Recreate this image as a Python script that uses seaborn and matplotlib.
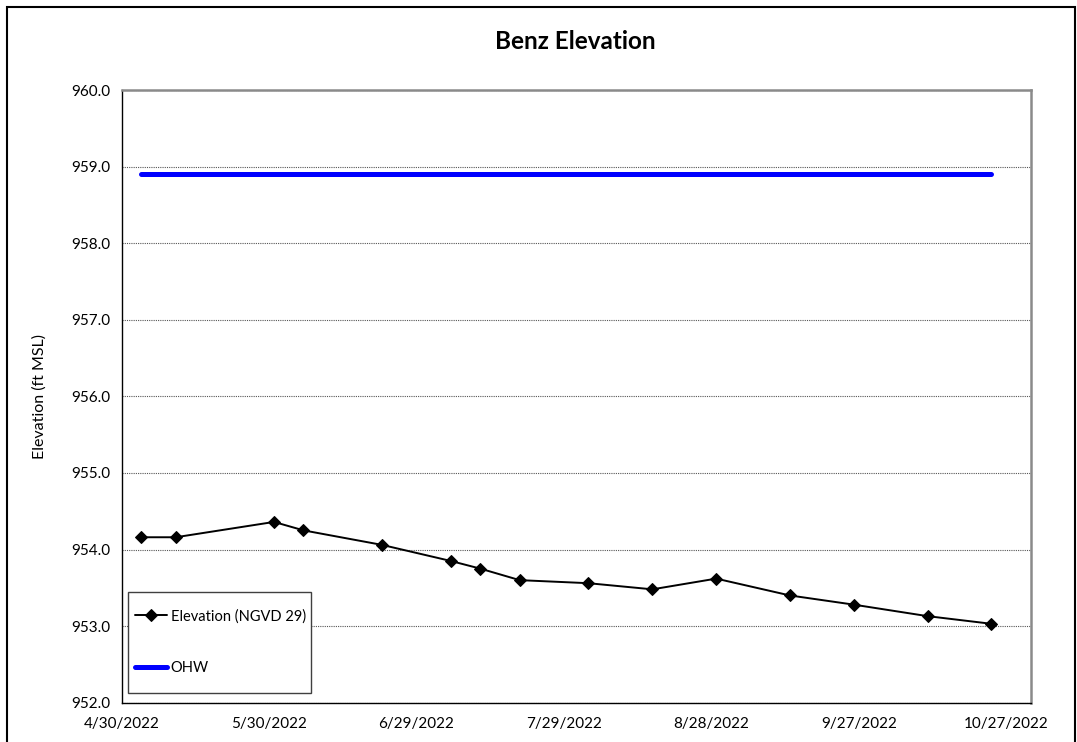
import matplotlib
matplotlib.use("Agg")
import matplotlib.pyplot as plt
import matplotlib.dates as mdates
from matplotlib.ticker import FuncFormatter
from matplotlib.patches import Rectangle
import seaborn as sns
import pandas as pd

# Survey dates and lake elevations (ft, NGVD 29)
dates = ["2022-05-04", "2022-05-11", "2022-05-31", "2022-06-06", "2022-06-22",
         "2022-07-06", "2022-07-12", "2022-07-20", "2022-08-03", "2022-08-16",
         "2022-08-29", "2022-09-13", "2022-09-26", "2022-10-11", "2022-10-24"]
elevation = [954.16, 954.16, 954.36, 954.25, 954.06,
             953.85, 953.75, 953.60, 953.56, 953.48,
             953.62, 953.40, 953.28, 953.13, 953.03]
ohw_level = 958.9

tick_dates = ["2022-04-30", "2022-05-30", "2022-06-29", "2022-07-29",
              "2022-08-28", "2022-09-27", "2022-10-27"]
x_limits = ["2022-04-30", "2022-11-01"]
y_ticks = [952.0, 953.0, 954.0, 955.0, 956.0, 957.0, 958.0, 959.0, 960.0]

df = pd.DataFrame({"date": pd.to_datetime(dates), "elev": elevation})
df["ohw"] = ohw_level

sns.set_style("white")
plt.rcParams["font.family"] = ["Lato", "DejaVu Sans"]
plt.rcParams["text.color"] = "black"
plt.rcParams["axes.labelcolor"] = "black"

W, H = 1077, 742
fig = plt.figure(figsize=(W / 100, H / 100), dpi=100)
ax = fig.add_axes([0.1130, 0.0530, 0.8440, 0.8257])

sns.lineplot(data=df, x="date", y="elev", ax=ax, color="black", linewidth=1.4,
             marker="D", markersize=6, markeredgecolor="black",
             label="Elevation (NGVD 29)")
sns.lineplot(data=df, x="date", y="ohw", ax=ax, color="#0000FF", linewidth=3.6,
             solid_capstyle="round", label="OHW")

ax.set_xlim(pd.to_datetime(x_limits[0]), pd.to_datetime(x_limits[1]))
ax.set_ylim(y_ticks[0], y_ticks[-1])
ax.set_yticks(y_ticks)
ax.yaxis.set_major_formatter(FuncFormatter(lambda v, p: f"{v:.1f}"))
ax.set_xticks(pd.to_datetime(tick_dates))
ax.xaxis.set_major_formatter(FuncFormatter(
    lambda v, p: (lambda d: f"{d.month}/{d.day}/{d.year}")(mdates.num2date(v))))

ax.grid(axis="y", color="#555555", linestyle=(0, (1, 1)), linewidth=0.8)
ax.grid(axis="x", visible=False)
ax.set_axisbelow(True)

ax.tick_params(axis="both", direction="out", length=4, width=0.8,
               colors="black", labelsize=11, pad=4)
ax.tick_params(axis="x", pad=6)

for side in ["left", "bottom"]:
    ax.spines[side].set_color("black")
    ax.spines[side].set_linewidth(1.0)
for side in ["top", "right"]:
    ax.spines[side].set_color("#8a8a8a")
    ax.spines[side].set_linewidth(1.8)

ax.set_xlabel("")
ax.set_ylabel("Elevation (ft MSL)", fontsize=11.5, labelpad=18)

fig.text(0.534, 0.944, "Benz Elevation", ha="center", va="center",
         fontsize=17.5, fontweight="bold", color="black")

# legend entries without their own frame; the box is drawn as a patch below them
leg = ax.legend(loc="upper left", bbox_to_anchor=(135 / W, 1 - 609 / H),
                bbox_transform=fig.transFigure, borderaxespad=0,
                fontsize=10.5, frameon=False, handlelength=2.2,
                handletextpad=0.25, labelspacing=2.6, borderpad=0,
                numpoints=1)
leg.set_zorder(10)
for t in leg.get_texts():
    t.set_color("black")
ax.add_patch(Rectangle((128 / W, 1 - 693 / H), 183 / W, 101 / H,
                       transform=fig.transFigure, fill=True,
                       facecolor="white", edgecolor="#404040",
                       linewidth=1.0, zorder=9, clip_on=False))

# outer chart border
fig.patches.append(Rectangle((7 / W, -0.05), 1 - 9.5 / W, 1.05 - 7 / H,
                             transform=fig.transFigure, fill=False,
                             edgecolor="black", linewidth=1.5))

fig.savefig("out.png", dpi=100)
